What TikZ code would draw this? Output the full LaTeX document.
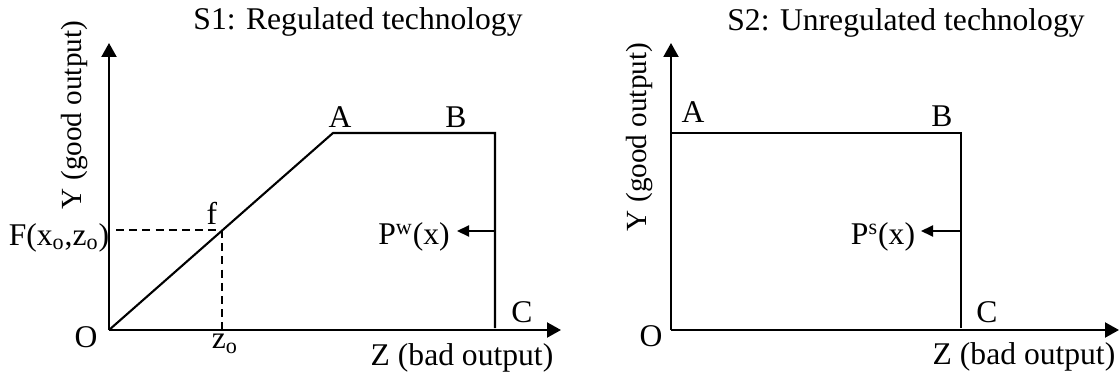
\documentclass[tikz,border=0pt]{standalone}
\usepackage{fontspec}
\setmainfont{Liberation Serif}
\usetikzlibrary{arrows.meta}
\tikzset{
  axis/.style={line width=1.05pt, -{Triangle[length=7pt,width=7.5pt]}},
  frontier/.style={line width=1.05pt, line join=miter},
  guide/.style={line width=1.05pt, dash pattern=on 4pt off 2.6pt},
  shiftarrow/.style={line width=1.05pt, -{Triangle[length=6pt,width=5.5pt]}},
  lbl/.style={font=\fontsize{15.8}{19}\selectfont, inner sep=0pt},
  ylbl/.style={font=\fontsize{14.6}{17}\selectfont, inner sep=0pt, rotate=90},
}
\begin{document}
\begin{tikzpicture}[x=0.5pt, y=-0.5pt]
  \useasboundingbox (0,0) rectangle (1119,374);

  % S1: regulated technology
  \coordinate (O1) at (109,330);
  \coordinate (Ytop1) at (109,43);
  \coordinate (Zend1) at (561,330);
  \coordinate (A1) at (333,133);
  \coordinate (B1) at (495,133);
  \coordinate (C1) at (495,328);
  \coordinate (f1) at (222,230);
  \coordinate (Fy1) at (116,230);
  \coordinate (zo1) at (222,330);
  \coordinate (P1) at (495,231);
  \coordinate (Pt1) at (457,231);

  \draw[axis] (O1) -- (Ytop1);
  \draw[axis] (O1) -- (Zend1);
  \draw[frontier] (O1) -- (A1) -- (B1) -- (C1);
  \draw[guide] (Fy1) -- (f1);
  \draw[guide] (f1) -- (zo1);
  \draw[shiftarrow] (P1) -- (Pt1);

  \node[lbl] (title1) at (358,22) {S1: Regulated technology};
  \node[ylbl] (ylab1) at (75,115) {Y (good output)};
  \node[lbl] (zlab1) at (462,358) {Z (bad output)};
  \node[lbl] (O1lbl) at (86,337) {O};
  \node[lbl] (A1lbl) at (340,117) {A};
  \node[lbl] (B1lbl) at (456,117) {B};
  \node[lbl] (C1lbl) at (522,312) {C};
  \node[lbl] (f1lbl) at (212,213) {f};
  \node[lbl] (F1lbl) at (59,238) {F(x\textsubscript{o},z\textsubscript{o})};
  \node[lbl] (zo1lbl) at (225,344) {z\textsubscript{o}};
  \node[lbl] (Pw1lbl) at (414,237) {P\textsuperscript{w}(x)};

  % S2: unregulated technology
  \coordinate (O2) at (671,330);
  \coordinate (Ytop2) at (671,43);
  \coordinate (Zend2) at (1119,330);
  \coordinate (A2) at (671,133);
  \coordinate (B2) at (961,133);
  \coordinate (C2) at (961,328);
  \coordinate (P2) at (961,231);
  \coordinate (Pt2) at (921,231);

  \draw[axis] (O2) -- (Ytop2);
  \draw[axis] (O2) -- (Zend2);
  \draw[frontier] (A2) -- (B2) -- (C2);
  \draw[shiftarrow] (P2) -- (Pt2);

  \node[lbl] (title2) at (906,23) {S2: Unregulated technology};
  \node[ylbl] (ylab2) at (640,137) {Y (good output)};
  \node[lbl] (zlab2) at (1024,357) {Z (bad output)};
  \node[lbl] (O2lbl) at (651,336) {O};
  \node[lbl] (A2lbl) at (693,112) {A};
  \node[lbl] (B2lbl) at (942,116) {B};
  \node[lbl] (C2lbl) at (987,312) {C};
  \node[lbl] (Ps2lbl) at (883,237) {P\textsuperscript{s}(x)};
\end{tikzpicture}
\end{document}
